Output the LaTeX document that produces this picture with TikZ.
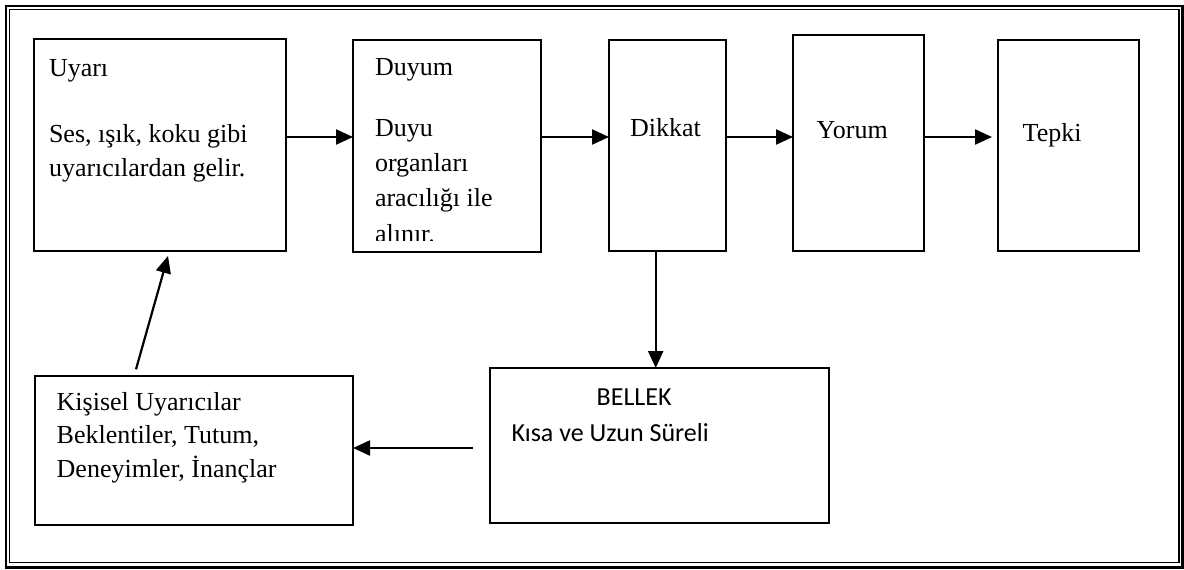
\documentclass[tikz,border=0pt]{standalone}
\usepackage{fontspec}
\setmainfont{Liberation Serif}
\newfontfamily\calibrifont{Carlito}
\usetikzlibrary{arrows.meta}
\begin{document}
\begin{tikzpicture}[x=1pt,y=-1pt,
  box/.style={draw=black,line width=1.8pt,inner sep=0pt,outer sep=0pt,fill=none},
  txt/.style={anchor=base west,inner sep=0pt,outer sep=0pt,font=\fontsize{26}{34.5}\selectfont},
  ctxt/.style={anchor=base west,inner sep=0pt,outer sep=0pt,font=\calibrifont\fontsize{26}{34.5}\selectfont},
  arr/.style={line width=2.2pt,-{Triangle[length=17pt,width=15pt]}}]
\useasboundingbox (0,0) rectangle (1184,570);
% double border
\draw[line width=2.6pt] (6,6) rectangle (1182.5,567.7);
\draw[line width=1.4pt] (9.7,9.7) rectangle (1179,562.5);
% boxes
\node[box,minimum width=252pt,minimum height=212pt] (uyari) at (160,145) {};
\node[box,minimum width=188pt,minimum height=211.7pt] (duyum) at (447,145.85) {};
\node[box,minimum width=116.7pt,minimum height=211pt] (dikkat) at (667.35,145.5) {};
\node[box,minimum width=131pt,minimum height=216pt] (yorum) at (858.5,143) {};
\node[box,minimum width=141pt,minimum height=211pt] (tepki) at (1068.5,145.5) {};
\node[box,minimum width=318pt,minimum height=149.3pt] (kisisel) at (194,450.35) {};
\node[box,minimum width=339pt,minimum height=155pt] (bellek) at (659.5,445.5) {};
% texts
\node[txt] (t1) at (49,76) {Uyarı};
\node[txt] (t2) at (49,142) {Ses, ışık, koku gibi};
\node[txt] (t3) at (49,176.5) {uyarıcılardan gelir.};
\node[txt] (t4) at (375,75) {Duyum};
\node[txt] (t5) at (375,136.5) {Duyu};
\node[txt] (t6) at (375,171.5) {organları};
\node[txt] (t7) at (375,206.5) {aracılığı ile};
\begin{scope}
\clip (360,215) rectangle (535,240.5);
\node[txt] (t8) at (375,242) {alınır.};
\end{scope}
\node[txt] (t9) at (630,136.7) {Dikkat};
\node[txt] (t10) at (816.7,138) {Yorum};
\node[txt] (t11) at (1022.7,141.7) {Tepki};
\node[txt] (t12) at (56.7,410) {Kişisel Uyarıcılar};
\node[txt] (t13) at (56.7,443) {Beklentiler, Tutum,};
\node[txt] (t14) at (56.7,477) {Deneyimler, İnançlar};
\node[ctxt] (t15) at (596.7,405) {BELLEK};
\node[ctxt] (t16) at (511.7,441.7) {Kısa ve Uzun Süreli};
% connector helper coordinates
\coordinate (ay) at (0,137);
\coordinate (dn) at (655.7,0);
\coordinate (lt) at (473,448);
\coordinate (upTail) at (136,369.3);
\coordinate (upTip) at (168,256);
% connectors
\draw[arr] (uyari.east |- ay) -- (duyum.west |- ay);
\draw[arr] (duyum.east |- ay) -- (dikkat.west |- ay);
\draw[arr] (dikkat.east |- ay) -- (yorum.west |- ay);
\draw[arr,shorten >=6pt] (yorum.east |- ay) -- (tepki.west |- ay);
\draw[arr] (dikkat.south -| dn) -- (bellek.north -| dn);
\draw[arr] (lt) -- (kisisel.east |- lt);
\draw[arr] (upTail) -- (upTip);
\end{tikzpicture}
\end{document}
